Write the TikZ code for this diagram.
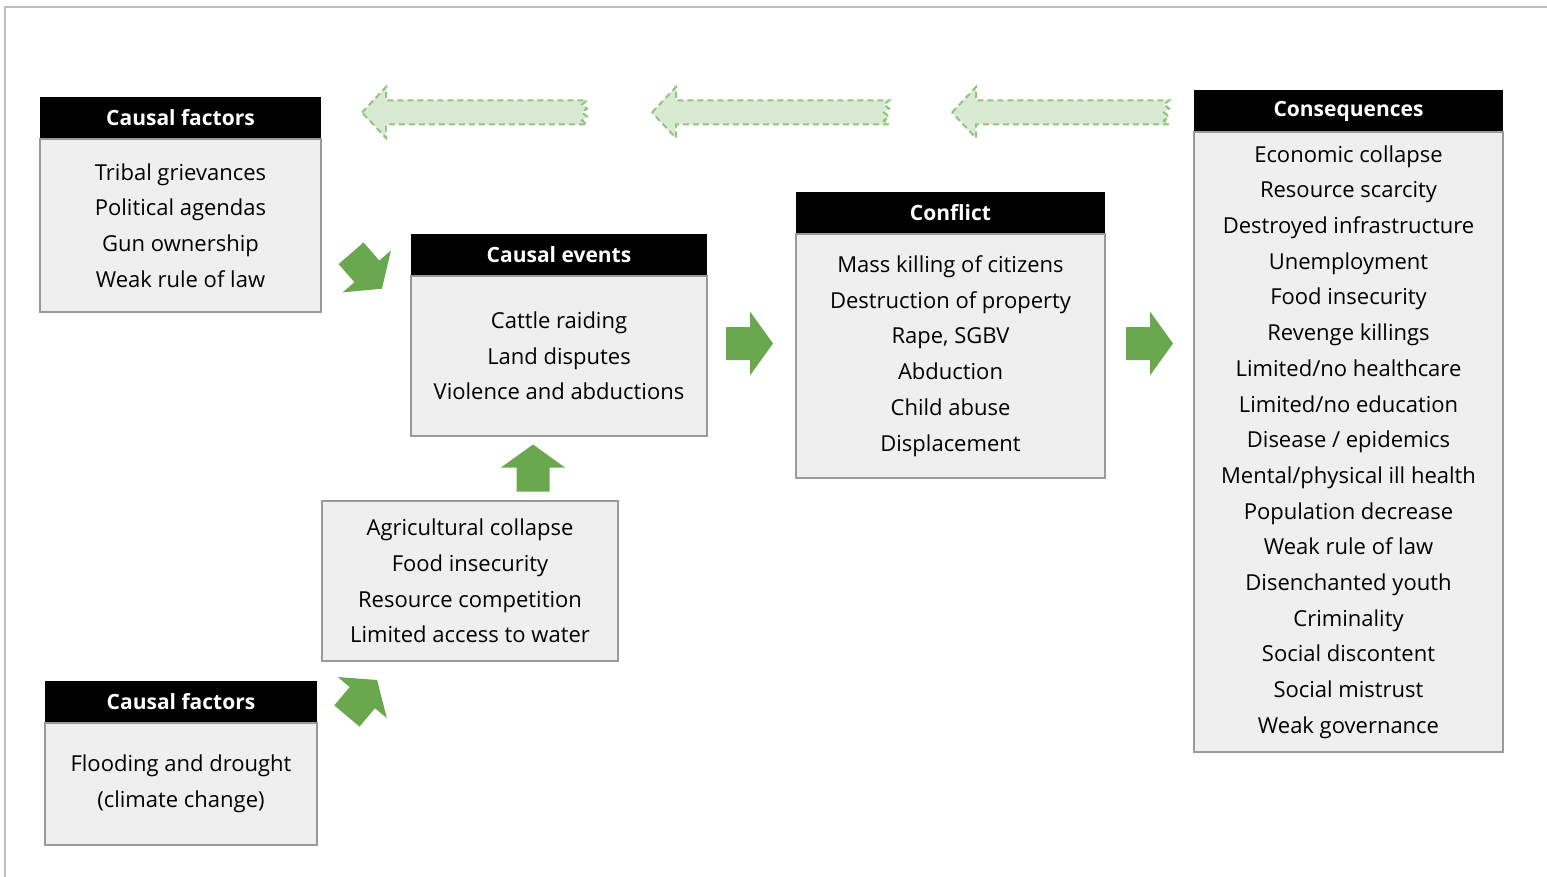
\documentclass[tikz,border=0pt]{standalone}
\usepackage{fontspec}
\setmainfont{Open Sans}
\usetikzlibrary{positioning}

\definecolor{arrowgreen}{HTML}{6AA84F}
\definecolor{ghostfill}{HTML}{D9EAD3}
\definecolor{ghostline}{HTML}{93C47D}
\definecolor{boxfill}{HTML}{EFEFEF}
\definecolor{boxline}{HTML}{9A9A9A}
\definecolor{framegray}{HTML}{BDBDBD}

\tikzset{
  head/.style={fill=black, text=white, font=\bfseries\fontsize{21}{30}\selectfont,
    minimum height=42, inner sep=0, outer sep=0, anchor=north west},
  body/.style={fill=boxfill, draw=boxline, line width=1.5, inner sep=0, outer sep=0,
    font=\fontsize{22}{35.7}\selectfont, align=center},
  ghostarrow/.style={fill=ghostfill, draw=ghostline, line width=2, dash pattern=on 6pt off 4pt},
  blockarrow/.pic={\fill[arrowgreen] (-23.5,-16.5) -- (0.5,-16.5) -- (0.5,-32) -- (23.5,0)
    -- (0.5,32) -- (0.5,16.5) -- (-23.5,16.5) -- cycle;}
}

\begin{document}
\begin{tikzpicture}[x=1pt,y=-1pt]
  \useasboundingbox (0,0) rectangle (1547,877);
  \draw[framegray, line width=2.5] (5,877) -- (5,7) -- (1547,7);

  % boxes
  \node[head, minimum width=281] (factorsHead) at (40,97) {Causal factors};
  \node[body, minimum width=281, minimum height=173, below=0pt of factorsHead] (factorsBody)
    {Tribal grievances\\Political agendas\\Gun ownership\\Weak rule of law};

  \node[head, minimum width=296] (eventsHead) at (411,234) {Causal events};
  \node[body, minimum width=296, minimum height=160, below=0pt of eventsHead] (eventsBody)
    {Cattle raiding\\Land disputes\\Violence and abductions};

  \node[head, minimum width=309] (conflictHead) at (796,192) {Conflict};
  \node[body, minimum width=309, minimum height=244, below=0pt of conflictHead] (conflictBody)
    {Mass killing of citizens\\Destruction of property\\Rape, SGBV\\Abduction\\Child abuse\\Displacement};

  \node[head, minimum width=309] (consHead) at (1194,90) {Consequences};
  \node[body, minimum width=309, minimum height=620, below=0pt of consHead] (consBody)
    {Economic collapse\\Resource scarcity\\Destroyed infrastructure\\Unemployment\\Food insecurity\\
     Revenge killings\\Limited/no healthcare\\Limited/no education\\Disease / epidemics\\
     Mental/physical ill health\\Population decrease\\Weak rule of law\\Disenchanted youth\\
     Criminality\\Social discontent\\Social mistrust\\Weak governance};

  \node[body, minimum width=296, minimum height=160, anchor=north west] (impactBody) at (322,501)
    {Agricultural collapse\\Food insecurity\\Resource competition\\Limited access to water};

  \node[head, minimum width=272] (climateHead) at (45,681) {Causal factors};
  \node[body, minimum width=272, minimum height=122, below=0pt of climateHead] (climateBody)
    {Flooding and drought\\(climate change)};

  % arrows
  \pic at (749.5,343.5) {blockarrow};
  \pic at (1149.5,343.5) {blockarrow};
  \pic[rotate=90] at (533,468) {blockarrow};
  \pic[rotate=-49] at (366.5,271) {blockarrow};
  \pic[rotate=50] at (362,698) {blockarrow};

  \foreach \a/\b in {362/587,652/889,952/1169}
    \draw[ghostarrow] (\a,112.5) -- (\a+24,87) -- (\a+24,100.5) -- (\b,100.5) -- (\b-5,104.5)
      -- (\b,108.5) -- (\b-5,112.5) -- (\b,116.5) -- (\b-5,120.5) -- (\b,124.5)
      -- (\a+24,124.5) -- (\a+24,138) -- cycle;
\end{tikzpicture}
\end{document}
